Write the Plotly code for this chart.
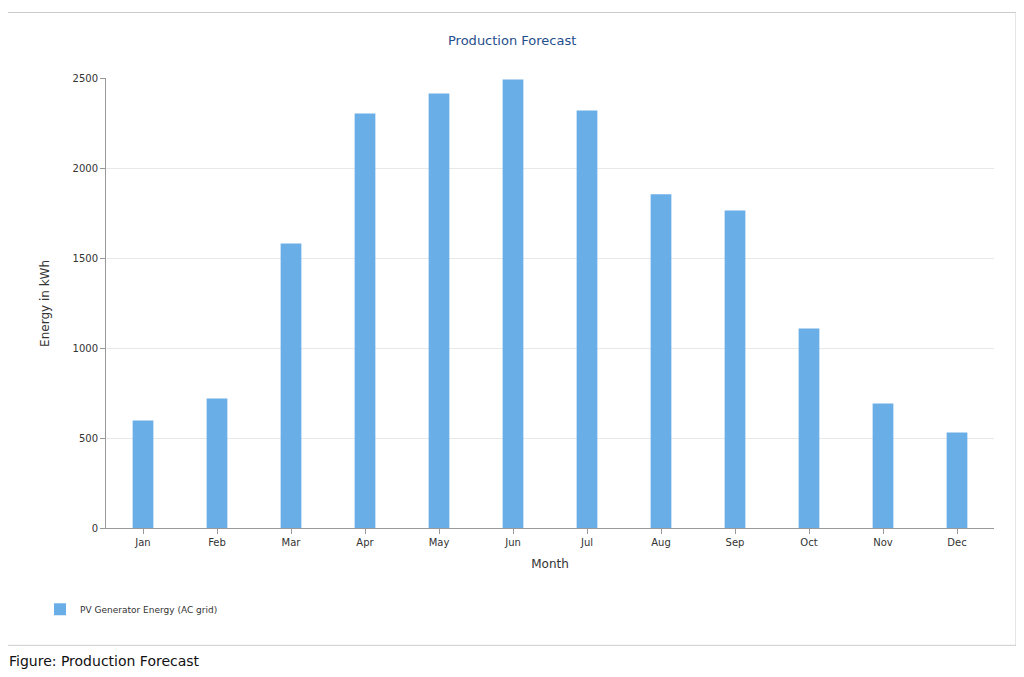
import plotly.graph_objects as go

months = ["Jan","Feb","Mar","Apr","May","Jun","Jul","Aug","Sep","Oct","Nov","Dec"]
energy = [600, 722, 1583, 2306, 2417, 2494, 2322, 1856, 1767, 1111, 694, 533]

W, H = 1024, 677
def py(p): return 1 - ((p - 12.5) / 0.984) / H
def px(p): return (p - 8) / W

fig = go.Figure(go.Bar(x=months, y=energy, name="PV Generator Energy (AC grid)",
                       marker=dict(color="#6aaee8", line=dict(width=0)), width=0.28,
                       showlegend=True))
fnt = "DejaVu Sans"
fig.update_layout(
    width=W, height=H, margin=dict(l=0, r=0, t=0, b=0),
    paper_bgcolor="white", plot_bgcolor="white",
    font=dict(family=fnt, size=10, color="#333"),
    xaxis=dict(domain=[98/W, 986/W], showline=True, linecolor="#999", ticks="outside",
               ticklen=5, tickcolor="#999", title=dict(text="Month", standoff=12)),
    yaxis=dict(domain=[py(528), py(78)], range=[0, 2500], dtick=500, showgrid=True,
               gridcolor="#e8e8e8", zeroline=False, showline=True, linecolor="#999",
               ticks="outside", ticklen=5, tickcolor="#999",
               title=dict(text="Energy in kWh", standoff=20)),
    legend=dict(x=px(40), y=py(609), xanchor="left", yanchor="middle", font=dict(size=9),
                itemwidth=30),
    shapes=[dict(type="rect", xref="paper", yref="paper", x0=px(7), x1=px(1016),
                 y0=py(645), y1=py(12), line=dict(color="#ccc", width=1))],
    annotations=[
        dict(text="Production Forecast", xref="paper", yref="paper", x=px(512), y=py(40),
             yanchor="middle", showarrow=False, font=dict(size=13, color="#1f4e8c")),
        dict(text="Figure: Production Forecast", xref="paper", yref="paper", x=px(7), y=py(661),
             xanchor="left", yanchor="middle", showarrow=False, font=dict(size=14, color="#111")),
    ],
)
fig.write_html("out.html")
